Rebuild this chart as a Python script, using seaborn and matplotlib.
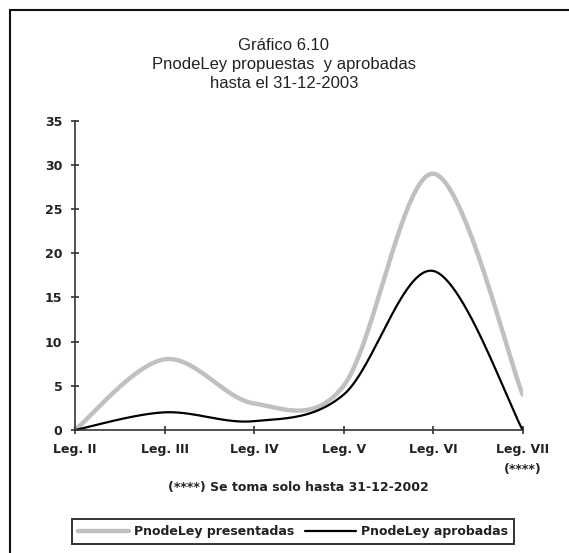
import numpy as np
import pandas as pd
import matplotlib
matplotlib.use("Agg")
import matplotlib.pyplot as plt
import seaborn as sns
from matplotlib.patches import Rectangle
from matplotlib.lines import Line2D

# ---- data ----
categories = ["Leg. II", "Leg. III", "Leg. IV", "Leg. V", "Leg. VI", "Leg. VII\n(****)"]
presentadas = [0, 8, 3, 5, 29, 4]
aprobadas = [0, 2, 1, 4, 18, 0]
series_names = ["PnodeLey presentadas", "PnodeLey aprobadas"]
title_lines = ["Gráfico 6.10", "PnodeLey propuestas  y aprobadas", "hasta el 31-12-2003"]
note = "(****) Se toma solo hasta 31-12-2002"
yticks = [0, 5, 10, 15, 20, 25, 30, 35]


def smooth(xs, ys, n=60):
    """Excel-style smoothed line (Catmull-Rom Bezier) through the points."""
    P = np.column_stack([xs, ys]).astype(float)
    Pext = np.vstack([P[0], P, P[-1]])
    out = []
    t = np.linspace(0, 1, n)[:, None]
    for i in range(len(P) - 1):
        p0, p1, p2, p3 = Pext[i], Pext[i + 1], Pext[i + 2], Pext[i + 3]
        b1 = p1 + (p2 - p0) / 6.0
        b2 = p2 - (p3 - p1) / 6.0
        seg = ((1 - t) ** 3) * p1 + 3 * ((1 - t) ** 2) * t * b1 + 3 * (1 - t) * t ** 2 * b2 + t ** 3 * p2
        out.append(seg if i == 0 else seg[1:])
    c = np.vstack(out)
    return c[:, 0], c[:, 1]


x = np.arange(len(categories))
frames = []
for name, vals in zip(series_names, [presentadas, aprobadas]):
    sx, sy = smooth(x, vals)
    frames.append(pd.DataFrame({"x": sx, "y": sy, "serie": name}))
df = pd.concat(frames, ignore_index=True)

sns.set_style("white")
plt.rcParams["font.family"] = ["DejaVu Sans"]

W, H = 569, 553
fig = plt.figure(figsize=(W / 100, H / 100), dpi=100)
ax = fig.add_axes([75 / W, 1 - 430 / H, (522.7 - 75) / W, (430 - 120.7) / H])

palette = {series_names[0]: "#c0c0c0", series_names[1]: "#000000"}
sizes = {series_names[0]: 3.2, series_names[1]: 1.6}
sns.lineplot(data=df, x="x", y="y", hue="serie", size="serie", sizes=sizes,
             palette=palette, sort=False, estimator=None, units="serie",
             ax=ax, legend=False)

ax.set_xlim(0, len(categories) - 1)
ax.set_ylim(0, 35)
ax.set_xticks(x)
ax.set_xticklabels(categories, fontsize=9, fontweight="bold", color="#222222",
                   linespacing=1.75)
ax.set_yticks(yticks)
ax.set_yticklabels([str(v) for v in yticks], fontsize=9, fontweight="bold", color="#222222")
ax.set_xlabel("")
ax.set_ylabel("")
for s in ["top", "right"]:
    ax.spines[s].set_visible(False)
for s in ["left", "bottom"]:
    ax.spines[s].set_color("#333333")
    ax.spines[s].set_linewidth(1.2)
ax.tick_params(axis="both", which="major", bottom=True, left=True, direction="inout",
               length=6, width=1.2, color="#333333")
ax.tick_params(axis="x", pad=6)
ax.tick_params(axis="y", pad=6)

# title
for t, yy in zip(title_lines, [45, 64, 83]):
    fig.text(284 / W, 1 - yy / H, t, ha="center", va="center", fontsize=12,
             color="#222222", family="Liberation Sans")

# note
fig.text(298 / W, 1 - 487 / H, note, ha="center", va="center", fontsize=9,
         fontweight="bold", color="#222222")

# legend box
handles = [Line2D([0], [0], color="#c0c0c0", lw=3.2), Line2D([0], [0], color="#000000", lw=1.6)]
leg = fig.legend(handles, series_names, loc="center", bbox_to_anchor=(293 / W, 1 - 531.5 / H),
                 ncol=2, frameon=True, fancybox=False, edgecolor="#000000",
                 prop={"size": 9, "weight": "bold"}, handlelength=4.1, handletextpad=0.4,
                 columnspacing=0.8, borderpad=0.45, borderaxespad=0)
leg.get_frame().set_linewidth(1.4)
for txt in leg.get_texts():
    txt.set_color("#222222")

# outer frame
fig.patches.append(Rectangle((10 / W, -0.1), 1.2, 1 - 10 / H + 0.1, transform=fig.transFigure,
                             fill=False, edgecolor="#111111", linewidth=1.5, clip_on=False))

fig.savefig("out.png", dpi=100)
